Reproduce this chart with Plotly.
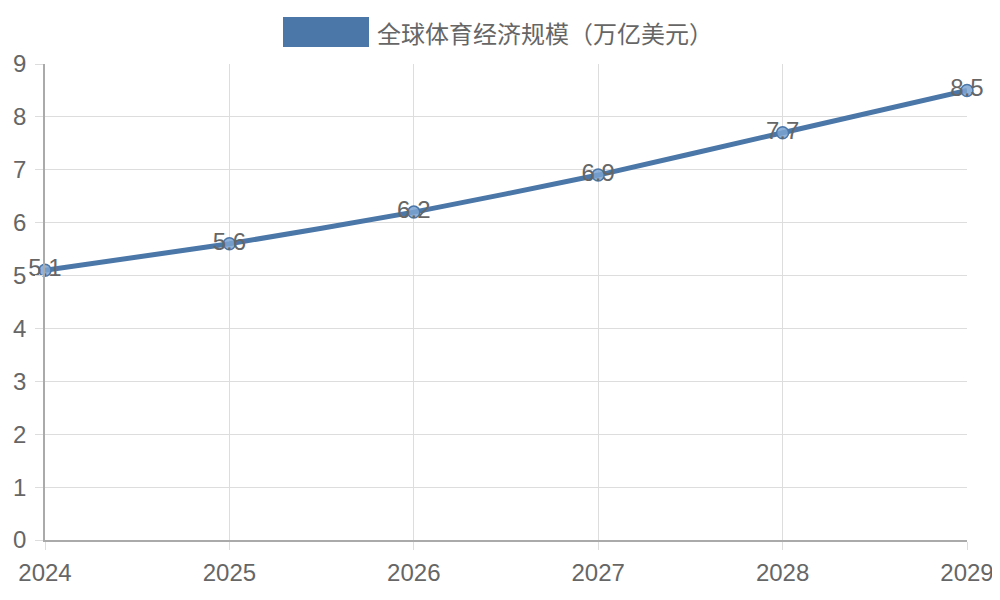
import plotly.graph_objects as go

# data
years = [2024, 2025, 2026, 2027, 2028, 2029]
values = [5.1, 5.6, 6.2, 6.9, 7.7, 8.5]
series_name = "全球体育经济规模（万亿美元）"

LINE = "#4a76a8"
GRID = "#dddddd"
AXIS = "#aaaaaa"
TXT = "#666666"
FONT = "Liberation Sans, Arial, Noto Sans CJK SC, sans-serif"

fig = go.Figure()
fig.add_trace(go.Scatter(
    x=years, y=values, mode="lines+markers+text",
    name=series_name,
    text=[str(v) for v in values], textposition="middle center",
    textfont=dict(size=24, color=TXT, family=FONT),
    line=dict(color=LINE, width=5, shape="spline", smoothing=0.4),
    marker=dict(size=12, color="rgba(125,165,210,0.85)", line=dict(color=LINE, width=1.5)),
    cliponaxis=False, showlegend=False,
))

# page body has an 8px margin, so the figure sits at (8, 8)
OFF = 8
W, H = 1000, 600
L, R, T, B = 45 - OFF, W + OFF - 967, 64 - OFF, H + OFF - 540
pw, ph = W - L - R, H - T - B

def px(x):
    return (x - OFF - L) / pw

def py(y):
    return (H - B - (y - OFF)) / ph

# legend drawn by hand to get the wide Chart.js style box
fig.add_shape(type="rect", xref="paper", yref="paper",
              x0=px(283), x1=px(369), y0=py(47), y1=py(17),
              fillcolor=LINE, line=dict(width=0))
fig.add_annotation(xref="paper", yref="paper", x=px(375), y=py(32),
                   xanchor="left", yanchor="middle", showarrow=False,
                   text=series_name,
                   font=dict(size=24, color=TXT, family="Noto Sans CJK SC, sans-serif"))

fig.update_layout(
    width=W, height=H,
    margin=dict(l=L, r=R, t=T, b=B),
    paper_bgcolor="white", plot_bgcolor="white",
    font=dict(family=FONT, color=TXT, size=24),
)
fig.update_xaxes(
    range=[2024, 2029], tickvals=years, ticktext=[str(y) for y in years],
    showgrid=True, gridcolor=GRID, gridwidth=1,
    showline=True, linecolor=AXIS, linewidth=1.5,
    ticks="outside", ticklen=8, tickcolor=GRID, ticklabelstandoff=2,
    tickfont=dict(size=24, color=TXT), zeroline=False, automargin=False,
)
fig.update_yaxes(
    range=[0, 9], dtick=1,
    showgrid=True, gridcolor=GRID, gridwidth=1,
    showline=True, linecolor=AXIS, linewidth=1.5,
    ticks="outside", ticklen=8, tickcolor=GRID, ticklabelstandoff=4,
    tickfont=dict(size=24, color=TXT), zeroline=False, automargin=False,
)

fig.write_html("out.html")
